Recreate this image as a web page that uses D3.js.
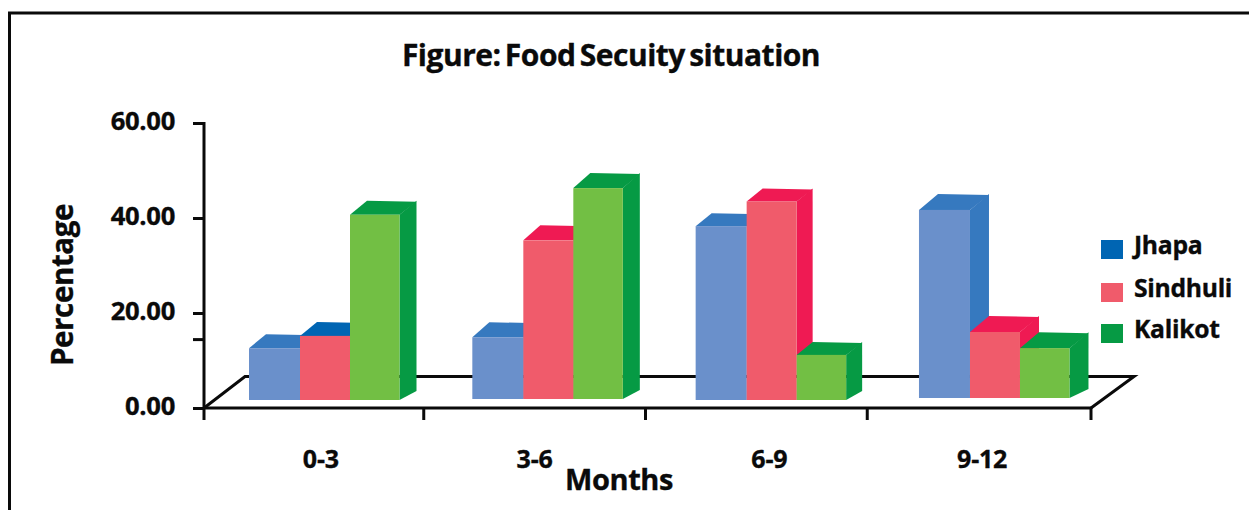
<!DOCTYPE html>
<html><head><meta charset="utf-8">
<script src="https://cdn.jsdelivr.net/npm/d3@7"></script>
<style>
html,body{margin:0;padding:0;background:#fff}
svg{display:block}
text{font-family:"Open Sans",sans-serif;font-weight:700;fill:#0a0a0a;stroke:#0a0a0a;stroke-width:0.35px}
</style></head><body>
<svg id="c" width="1249" height="510"></svg>
<script>
const months = ["0-3","3-6","6-9","9-12"];
const seriesNames = ["Jhapa","Sindhuli","Kalikot"];
const jhapa = [10.9,13.0,36.6,39.6];
const sindhuli = [13.5,33.4,41.8,13.9];
const kalikot = [39.0,44.4,9.5,10.5];
const yTicks = [0,20,40,60];
const titleText = "Figure: Food Secuity situation";

const values = [jhapa,sindhuli,kalikot];
const front = ["#6a90cb","#f05b6b","#72bf44"];
const shade = ["#3679bf","#ef1a53","#069a44"];
const legendColor = ["#0065b3","#f05b6b","#069a44"];
const labelNudge = [6,-2,11,2];
const tickNudge = [0,-2,-2,-2,0];
const baseLift = [8,9,8,10];
const depthX = [17,17,16,19];
const depthY = [14,15,13,16];
const innerEdges = [0,51,101,150.5];

const svg = d3.select("#c");
const y = d3.scaleLinear().domain([0,60]).range([408,123]);
const x = d3.scaleBand().domain(months).range([204,1091]);
const xBars = d3.scaleBand().domain(months).range([249,1142.3]);

// frame
svg.append("path").attr("d","M9.5,510V13H1249").attr("fill","none").attr("stroke","#0a0a0a").attr("stroke-width",3);

// floor
const line = d3.line();
const floorBack = 376.5;
svg.append("path").attr("d",line([[204,408],[245,floorBack],[1134,floorBack],[1091,408]]))
  .attr("fill","none").attr("stroke","#0a0a0a").attr("stroke-width",3);

// bars
months.forEach((m,gi)=>{
  const g = svg.append("g");
  const base = y(0)-baseLift[gi];
  seriesNames.forEach((s,si)=>{
    const v = values[si][gi];
    const x0 = xBars(m)+innerEdges[si], x1 = xBars(m)+innerEdges[si+1];
    const top = y(v)-baseLift[gi];
    const dx = depthX[gi], dy = depthY[gi];
    g.append("path").attr("d",line([[x1,top],[x1+dx,top-dy],[x1+dx,base-9],[x1,base]])+"Z").attr("fill",shade[si]);
    const topFill = (gi===0&&si===1) ? legendColor[0] : shade[si];
    g.append("path").attr("d",line([[x0,top],[x0+dx,top-dy],[x1+dx,top-dy+1],[x1,top]])+"Z").attr("fill",topFill);
    g.append("rect").attr("x",x0).attr("y",top).attr("width",x1-x0).attr("height",base-top).attr("fill",front[si]);
  });
});

// axes
const yAxis = d3.axisLeft(y).tickValues(yTicks).tickSize(11).tickFormat(d=>d3.format(".2f")(d));
const yG = svg.append("g").attr("transform","translate(204,0)").call(yAxis);
yG.select(".domain").attr("stroke","#0a0a0a").attr("stroke-width",3).attr("d","M0,122V408");
yG.selectAll(".tick line").attr("stroke","#0a0a0a").attr("stroke-width",3);
yG.selectAll(".tick text").attr("x",-29).attr("dy","0.26em").attr("font-size",25.6).attr("fill","#0a0a0a")
  .style("font-family",'"Open Sans",sans-serif').style("font-weight",700).style("letter-spacing","-0.3px");
yG.append("line").attr("x1",-11).attr("x2",0).attr("y1",y(14.4)).attr("y2",y(14.4)).attr("stroke","#0a0a0a").attr("stroke-width",3);

const xG = svg.append("g").attr("transform","translate(0,408)");
const tickPos = months.map(m=>x(m)).concat([1091]).map((d,i)=>d+tickNudge[i]);
xG.selectAll("line").data(tickPos).join("line").attr("x1",d=>d).attr("x2",d=>d).attr("y1",0).attr("y2",12)
  .attr("stroke","#0a0a0a").attr("stroke-width",3);
xG.append("line").attr("x1",204).attr("x2",1091).attr("y1",0).attr("y2",0).attr("stroke","#0a0a0a").attr("stroke-width",3);
xG.selectAll("text").data(months).join("text")
  .attr("x",(d,i)=>x(d)+x.bandwidth()/2+labelNudge[i]).attr("y",60).attr("text-anchor","middle")
  .attr("font-size",25).style("letter-spacing","-0.2px").text(d=>d);

// titles
svg.append("text").attr("x",611).attr("y",66).attr("text-anchor","middle").attr("font-size",30)
  .style("letter-spacing","-0.5px").style("word-spacing","-3px").text(titleText);
svg.append("text").attr("x",619).attr("y",490).attr("text-anchor","middle").attr("font-size",29)
  .style("letter-spacing","-0.4px").text("Months");
svg.append("text").attr("transform","translate(73,285) rotate(-90)").attr("text-anchor","middle").attr("font-size",29.5)
  .style("letter-spacing","-0.4px").text("Percentage");

// legend
const legendYs = {Jhapa:240,Sindhuli:283,Kalikot:324};
seriesNames.forEach((s,i)=>{
  svg.append("rect").attr("x",1101).attr("y",legendYs[s]).attr("width",22).attr("height",19).attr("fill",legendColor[i]);
  svg.append("text").attr("x",1134).attr("y",legendYs[s]+14).attr("font-size",24.7).style("letter-spacing","-0.3px").text(s);
});
</script>
</body></html>
